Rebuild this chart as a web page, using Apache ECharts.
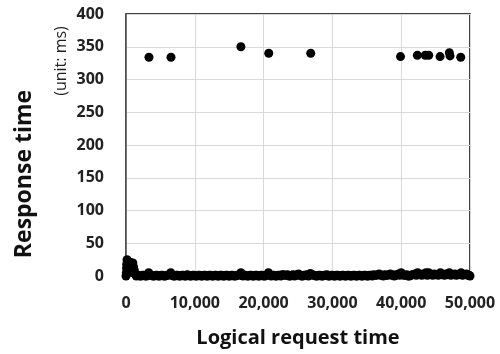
<!DOCTYPE html>
<html>
<head>
<meta charset="utf-8">
<script src="https://cdn.jsdelivr.net/npm/echarts@6/dist/echarts.min.js"></script>
<style>html,body{margin:0;padding:0;background:#fff}#c{width:500px;height:354px}</style>
</head>
<body>
<div id="c"></div>
<script>
const xTitle = 'Logical request time';
const yTitle = 'Response time';
const unitText = '(unit: ms)';
const xTicks = [0, 10000, 20000, 30000, 40000, 50000];
const yTicks = [0, 50, 100, 150, 200, 250, 300, 350, 400];

// slow responses (~335-350 ms)
const highPoints = [
  [3340, 334], [6540, 334], [16700, 350], [20750, 340], [26850, 340],
  [39900, 335], [42350, 337], [43500, 337], [44000, 337], [45650, 335],
  [47000, 341], [47100, 336], [48650, 334]
];

// fast responses (near 0 ms)
const lowPoints = [
  [0,0],[50,5],[80,12],[100,18],[150,25],[200,22],[250,15],[300,10],[350,20],[400,8],
  [500,16],[600,21],[700,12],[800,6],[900,18],[1000,20],[1100,14],[1200,9],[1300,4],[1400,2],
  [1500,0],[1800,1],[2200,0],[2600,1],[3000,0],[3300,5],[3700,1],[4100,0],[4500,1],[4900,0],
  [5300,1],[5700,0],[6100,1],[6500,5],[6900,0],[7300,1],[7700,0],[8100,1],[8500,0],[8900,2],
  [9300,0],[9700,1],[10100,0],[10500,1],[10900,0],[11300,1],[11700,0],[12100,1],[12500,0],[12900,1],
  [13300,0],[13700,1],[14100,0],[14500,1],[14900,0],[15300,1],[15700,0],[16100,1],[16700,5],[17000,0],
  [17400,1],[17800,0],[18200,1],[18600,0],[19000,1],[19400,0],[19800,1],[20200,0],[20700,5],[21100,0],
  [21500,1],[21900,0],[22300,1],[22700,2],[23100,1],[23500,2],[23900,0],[24300,2],[24700,1],[25100,3],
  [25500,0],[25900,1],[26300,2],[26800,4],[27200,1],[27600,0],[28000,1],[28400,0],[28800,1],[29200,2],
  [29600,0],[30000,1],[30400,0],[30800,1],[31200,0],[31600,1],[32000,0],[32400,1],[32800,0],[33200,1],
  [33600,0],[34000,1],[34400,0],[34800,1],[35200,0],[35600,1],[36000,2],[36400,1],[36800,3],[37200,1],
  [37600,2],[38000,1],[38400,3],[38800,2],[39200,1],[39600,3],[40000,5],[40400,1],[40800,2],[41200,0],
  [41600,2],[42000,3],[42400,5],[42800,2],[43200,3],[43600,5],[44000,5],[44400,2],[44800,3],[45200,2],
  [45700,5],[46100,2],[46500,3],[47000,5],[47400,2],[47800,3],[48200,2],[48700,5],[49100,2],[49500,3],
  [49900,1],[50000,0],
  [1600,1],[2000,0],[2400,1],[2800,0],[3200,1],[3500,2],[3900,0],[4300,1],[4700,0],[5100,1],
  [5500,0],[5900,1],[6300,2],[6700,1],[7100,0],[7500,1],[7900,0],[8300,1],[8700,0],[9100,1],
  [9500,0],[9900,1],[10300,0],[10700,1],[11100,0],[11500,1],[11900,0],[12300,1],[12700,0],[13100,1],
  [13500,0],[13900,1],[14300,0],[14700,1],[15100,0],[15500,1],[15900,0],[16400,1],[16900,2],[17200,1],
  [17600,0],[18000,1],[18400,0],[18800,1],[19200,0],[19600,1],[20000,0],[20400,1],[20900,2],[21300,1],
  [21700,0],[22100,1],[22500,0],[22900,2],[23300,1],[23700,0],[24100,1],[24500,0],[24900,2],[25300,1],
  [25700,0],[26100,1],[26500,0],[27000,2],[27400,1],[27800,0],[28200,1],[28600,0],[29000,1],[29400,0],
  [29800,1],[30200,0],[30600,1],[31000,0],[31400,1],[31800,0],[32200,1],[32600,0],[33000,1],[33400,0],
  [33800,1],[34200,0],[34600,1],[35000,0],[35400,1],[35800,0],[36200,1],[36600,2],[37000,1],[37400,0],
  [37800,1],[38200,2],[38600,1],[39000,0],[39400,2],[39800,1],[40200,2],[40600,1],[41000,0],[41400,1],
  [41800,2],[42200,1],[42600,2],[43000,1],[43400,2],[43800,1],[44200,2],[44600,1],[45000,2],[45400,1],
  [45900,2],[46300,1],[46700,2],[47200,1],[47600,2],[48000,1],[48400,2],[48900,1],[49300,2],[49700,1]
];

const FONT = '"Open Sans", sans-serif';
const chart = echarts.init(document.getElementById('c'), null, {renderer: 'canvas'});
chart.setOption({
  animation: false,
  backgroundColor: '#fff',
  grid: {left: 126, right: 30, top: 14, bottom: 78, show: true, borderColor: '#000', borderWidth: 1.5},
  xAxis: {
    type: 'value', min: xTicks[0], max: xTicks[xTicks.length - 1], interval: 10000,
    name: xTitle, nameLocation: 'middle', nameGap: 52,
    nameTextStyle: {fontFamily: FONT, fontWeight: 'bold', fontSize: 20, color: '#111'},
    axisLine: {show: true, lineStyle: {color: '#555', width: 1}},
    axisTick: {show: false},
    axisLabel: {margin: 19, fontFamily: FONT, fontWeight: 'bold', fontSize: 16, color: '#222',
      formatter: v => v.toLocaleString('en-US')},
    splitLine: {show: true, lineStyle: {color: '#d9d9d9', width: 1}}
  },
  yAxis: {
    type: 'value', min: yTicks[0], max: yTicks[yTicks.length - 1], interval: 50,
    axisLine: {show: true, lineStyle: {color: '#555', width: 1.5}},
    axisTick: {show: false},
    axisLabel: {margin: 22, fontFamily: FONT, fontWeight: 'bold', fontSize: 16, color: '#222'},
    splitLine: {show: true, lineStyle: {color: '#d9d9d9', width: 1}}
  },
  graphic: [{
    type: 'text', x: 24, y: 174, rotation: Math.PI / 2,
    style: {text: yTitle, fontFamily: FONT, fontSize: 23, fontWeight: 'bold', fill: '#111',
      align: 'center', verticalAlign: 'middle'}
  }, {
    type: 'text', x: 61, y: 61, rotation: Math.PI / 2,
    style: {text: unitText, fontFamily: FONT, fontSize: 16, fontWeight: 'normal', fill: '#222',
      align: 'center', verticalAlign: 'middle'}
  }],
  series: [
    {type: 'scatter', data: lowPoints, symbolSize: 9, itemStyle: {color: '#000', opacity: 1}, clip: false},
    {type: 'scatter', data: highPoints, symbolSize: 9, itemStyle: {color: '#000', opacity: 1}, clip: false}
  ]
});
</script>
</body>
</html>
